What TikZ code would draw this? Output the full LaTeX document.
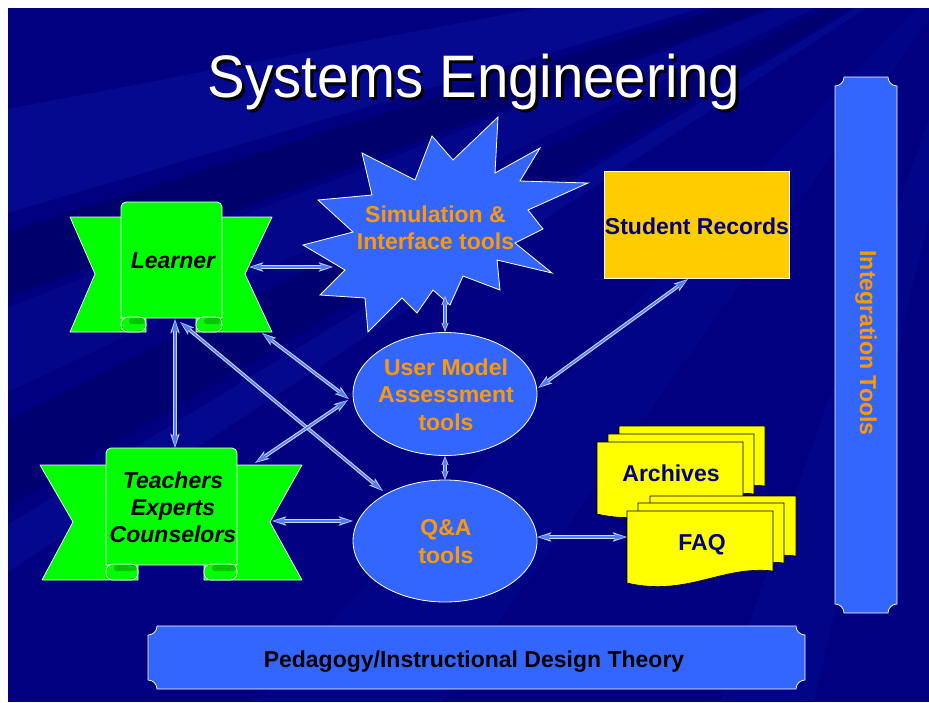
\documentclass[tikz,border=0pt]{standalone}
\usepackage{fontspec}
\setmainfont{Liberation Sans}
\usetikzlibrary{arrows.meta,shapes.geometric}
\definecolor{bgblue}{RGB}{0,0,128}
\definecolor{streak}{RGB}{40,80,255}
\definecolor{shapeblue}{RGB}{51,102,255}
\definecolor{ltorange}{RGB}{255,153,0}
\definecolor{navytext}{RGB}{0,0,128}
\definecolor{bgreen}{RGB}{0,255,0}
\definecolor{dgreen}{RGB}{0,200,0}
\definecolor{recyellow}{RGB}{255,204,0}
\definecolor{pageyellow}{RGB}{255,255,0}
\definecolor{arrowout}{RGB}{205,215,255}
\definecolor{arrowin}{RGB}{80,125,255}

\newcommand{\plaquepath}[5]{(#1+#5,#2) -- (#3-#5,#2) .. controls (#3-#5,#2+0.55*#5) and (#3-0.55*#5,#2+#5) .. (#3,#2+#5) -- (#3,#4-#5) .. controls (#3-0.55*#5,#4-#5) and (#3-#5,#4-0.55*#5) .. (#3-#5,#4) -- (#1+#5,#4) .. controls (#1+#5,#4-0.55*#5) and (#1+0.55*#5,#4-#5) .. (#1,#4-#5) -- (#1,#2+#5) .. controls (#1+0.55*#5,#2+#5) and (#1+#5,#2+0.55*#5) .. (#1+#5,#2) -- cycle}
\newcommand{\docpage}[2]{\filldraw[page] (#1,#2) -- (#1+146,#2) -- (#1+146,#2+60) .. controls (#1+95,#2+54) and (#1+60,#2+86) .. (#1,#2+72) -- cycle;}
\newcommand{\scrollcurl}[4]{\filldraw[banner, rounded corners=7pt] (#1,#3) rectangle (#2,#4);
  \fill[dgreen, rounded corners=2.5pt] (#1+8,#3+1) rectangle (#2-1.5,#3+7);}
\newcommand{\dconn}[2]{\draw[connout] (#1) -- (#2); \draw[connin] (#1) -- (#2);}
\newcommand{\dconnshort}[2]{\draw[connout, {Stealth[length=9pt,width=7pt,inset=2pt]}-{Stealth[length=9pt,width=7pt,inset=2pt]}] (#1) -- (#2);
  \draw[connin, {Stealth[length=7.5pt,width=4.5pt,inset=1.5pt]}-{Stealth[length=7.5pt,width=4.5pt,inset=1.5pt]}] (#1) -- (#2);}

\tikzset{
  banner/.style={fill=bgreen, draw=white, line width=0.7pt, line join=round},
  page/.style={fill=pageyellow, draw=black, line width=0.6pt},
  plaque/.style={fill=shapeblue, draw=white, line width=0.7pt},
  blueshape/.style={fill=shapeblue, draw=white, line width=0.8pt},
  lbl/.style={font=\bfseries\fontsize{23}{27.5}\selectfont, align=center, inner sep=0pt},
  italbl/.style={font=\bfseries\itshape\fontsize{23}{27}\selectfont, align=center, inner sep=0pt, text=black},
  connout/.style={line width=3.6pt, draw=arrowout, {Stealth[length=14pt,width=9pt,inset=3pt]}-{Stealth[length=14pt,width=9pt,inset=3pt]}},
  connin/.style={line width=1.5pt, draw=arrowin, {Stealth[length=12pt,width=6pt,inset=2.5pt]}-{Stealth[length=12pt,width=6pt,inset=2.5pt]}, shorten >=1.3pt, shorten <=1.3pt},
  titlestyle/.style={font=\fontsize{60}{66}\selectfont, inner sep=0pt, anchor=base}
}

\begin{document}
\begin{tikzpicture}[x=1pt,y=-1pt]
\useasboundingbox (0,0) rectangle (929,702);
\fill[white] (0,0) rectangle (929,702);
\fill[bgblue] (8,8) rectangle (929,702);
\begin{scope}
  \clip (8,8) rectangle (929,702);
  \fill[streak, opacity=0.12] (1000,-80) -- (-50,120) -- (-50,230) -- cycle;
  \fill[streak, opacity=0.08] (1000,-80) -- (-50,330) -- (-50,420) -- cycle;
  \fill[streak, opacity=0.10] (1000,-80) -- (-50,560) -- (-50,610) -- cycle;
  \fill[streak, opacity=0.06] (1000,-80) -- (200,760) -- (400,760) -- cycle;
  \fill[streak, opacity=0.07] (1000,-80) -- (700,760) -- (800,760) -- cycle;
  \fill[black, opacity=0.15] (1000,-80) -- (-50,250) -- (-50,320) -- cycle;
  \fill[black, opacity=0.12] (1000,-80) -- (-50,450) -- (-50,540) -- cycle;
\end{scope}

% title with drop shadow
\node[titlestyle, text=white] (title) at (474,97) {\makebox[0pt][l]{\raisebox{-3pt}{\hspace{3pt}\color{black}\scalebox{0.94}[1]{Systems Engineering}}}\scalebox{0.94}[1]{Systems Engineering}};

% integration tools bar
\filldraw[plaque] \plaquepath{835}{77}{897}{613}{9};
\node[lbl, text=ltorange, rotate=-90] (integ) at (866,343) {Integration Tools};

% pedagogy bar
\filldraw[plaque] \plaquepath{148}{626}{805}{689}{9};
\node[lbl, text=black, anchor=base] (peda) at (474,667) {Pedagogy/Instructional Design Theory};

% star
\filldraw[blueshape, line join=miter] (498,117) -- (495,173) -- (540,148) -- (520,181) -- (588,183) -- (528,210) -- (543,229) -- (515,243) -- (552,273) -- (497,260) -- (500,290) -- (463,276) -- (450,305) -- (433,290) -- (417,313) -- (402,298) -- (368,332) -- (365,298) -- (320,295) -- (345,270) -- (303,245) -- (353,232) -- (318,200) -- (372,195) -- (362,153) -- (415,180) -- (432,136) -- (453,160) -- cycle;
\node[lbl, text=ltorange] (sim) at (435.5,228) {Simulation \&\\Interface tools};

% student records
\node[draw=white, line width=0.8pt, fill=recyellow, minimum width=185pt, minimum height=107pt, inner sep=0pt] (records) at (696.5,224.5) {};
\node[lbl, text=navytext, anchor=base] (recordstxt) at (697,234) {Student Records};

% ellipses
\node[blueshape, ellipse, minimum width=184pt, minimum height=123pt, inner sep=0pt] (um) at (445,394) {};
\node[lbl, text=ltorange] (umtxt) at (446,394.5) {User Model\\Assessment\\tools};
\node[blueshape, ellipse, minimum width=184pt, minimum height=122pt, inner sep=0pt] (qa) at (445,541) {};
\node[lbl, text=ltorange] (qatxt) at (446,541.5) {Q\&A\\tools};

% learner banner
\filldraw[banner] (70,217) -- (272,217) -- (245,274) -- (272,332) -- (196,332) -- (196,317) -- (146,317) -- (146,332) -- (70,332) -- (95,274) -- cycle;
\filldraw[banner] (121,318) [rounded corners=5pt] -- (121,202) -- (222,202) [sharp corners] -- (222,318) -- cycle;
\scrollcurl{121}{146}{317}{332}
\scrollcurl{196}{222}{317}{332}
\node[italbl, anchor=base] (learner) at (173,268) {Learner};

% teachers banner
\filldraw[banner] (40,465) -- (302,465) -- (270,522) -- (302,580) -- (204,580) -- (204,564) -- (138,564) -- (138,580) -- (42,580) -- (73,522) -- cycle;
\filldraw[banner] (106,565) [rounded corners=5pt] -- (106,448) -- (237,448) [sharp corners] -- (237,565) -- cycle;
\scrollcurl{106}{138}{564}{580}
\scrollcurl{204}{237}{564}{580}
\node[italbl] (teachers) at (173,507) {Teachers\\Experts\\Counselors};

% archives and FAQ
\docpage{619}{426}
\docpage{608}{434}
\docpage{597}{442}
\node[lbl, text=navytext, anchor=base] (archives) at (671,481) {Archives};
\docpage{650}{496}
\docpage{638}{503}
\docpage{627}{511}
\node[lbl, text=navytext, anchor=base] (faq) at (702,550) {FAQ};

% connector end points
\coordinate (lR) at (249,267);
\coordinate (sL) at (333,267);
\coordinate (sB) at (445,296);
\coordinate (umN) at (445,332);
\coordinate (srB) at (688,279);
\coordinate (umE) at (538,388);
\coordinate (lB) at (175,319);
\coordinate (tT) at (175,448);
\coordinate (lBR) at (262,333);
\coordinate (umW1) at (349,399);
\coordinate (lBS) at (180,322);
\coordinate (qaNW) at (383,491);
\coordinate (tTR) at (255,463);
\coordinate (umW2) at (348,400);
\coordinate (tR) at (272,521);
\coordinate (qaW) at (353,521);
\coordinate (umS) at (445,456);
\coordinate (qaN) at (445,480);
\coordinate (qaE) at (537,537);
\coordinate (faqL) at (627,537);

\dconn{lR}{sL}
\dconnshort{sB}{umN}
\dconn{srB}{umE}
\dconn{lB}{tT}
\dconn{lBR}{umW1}
\dconn{lBS}{qaNW}
\dconn{tTR}{umW2}
\dconn{tR}{qaW}
\dconnshort{umS}{qaN}
\dconn{qaE}{faqL}
\end{tikzpicture}
\end{document}
